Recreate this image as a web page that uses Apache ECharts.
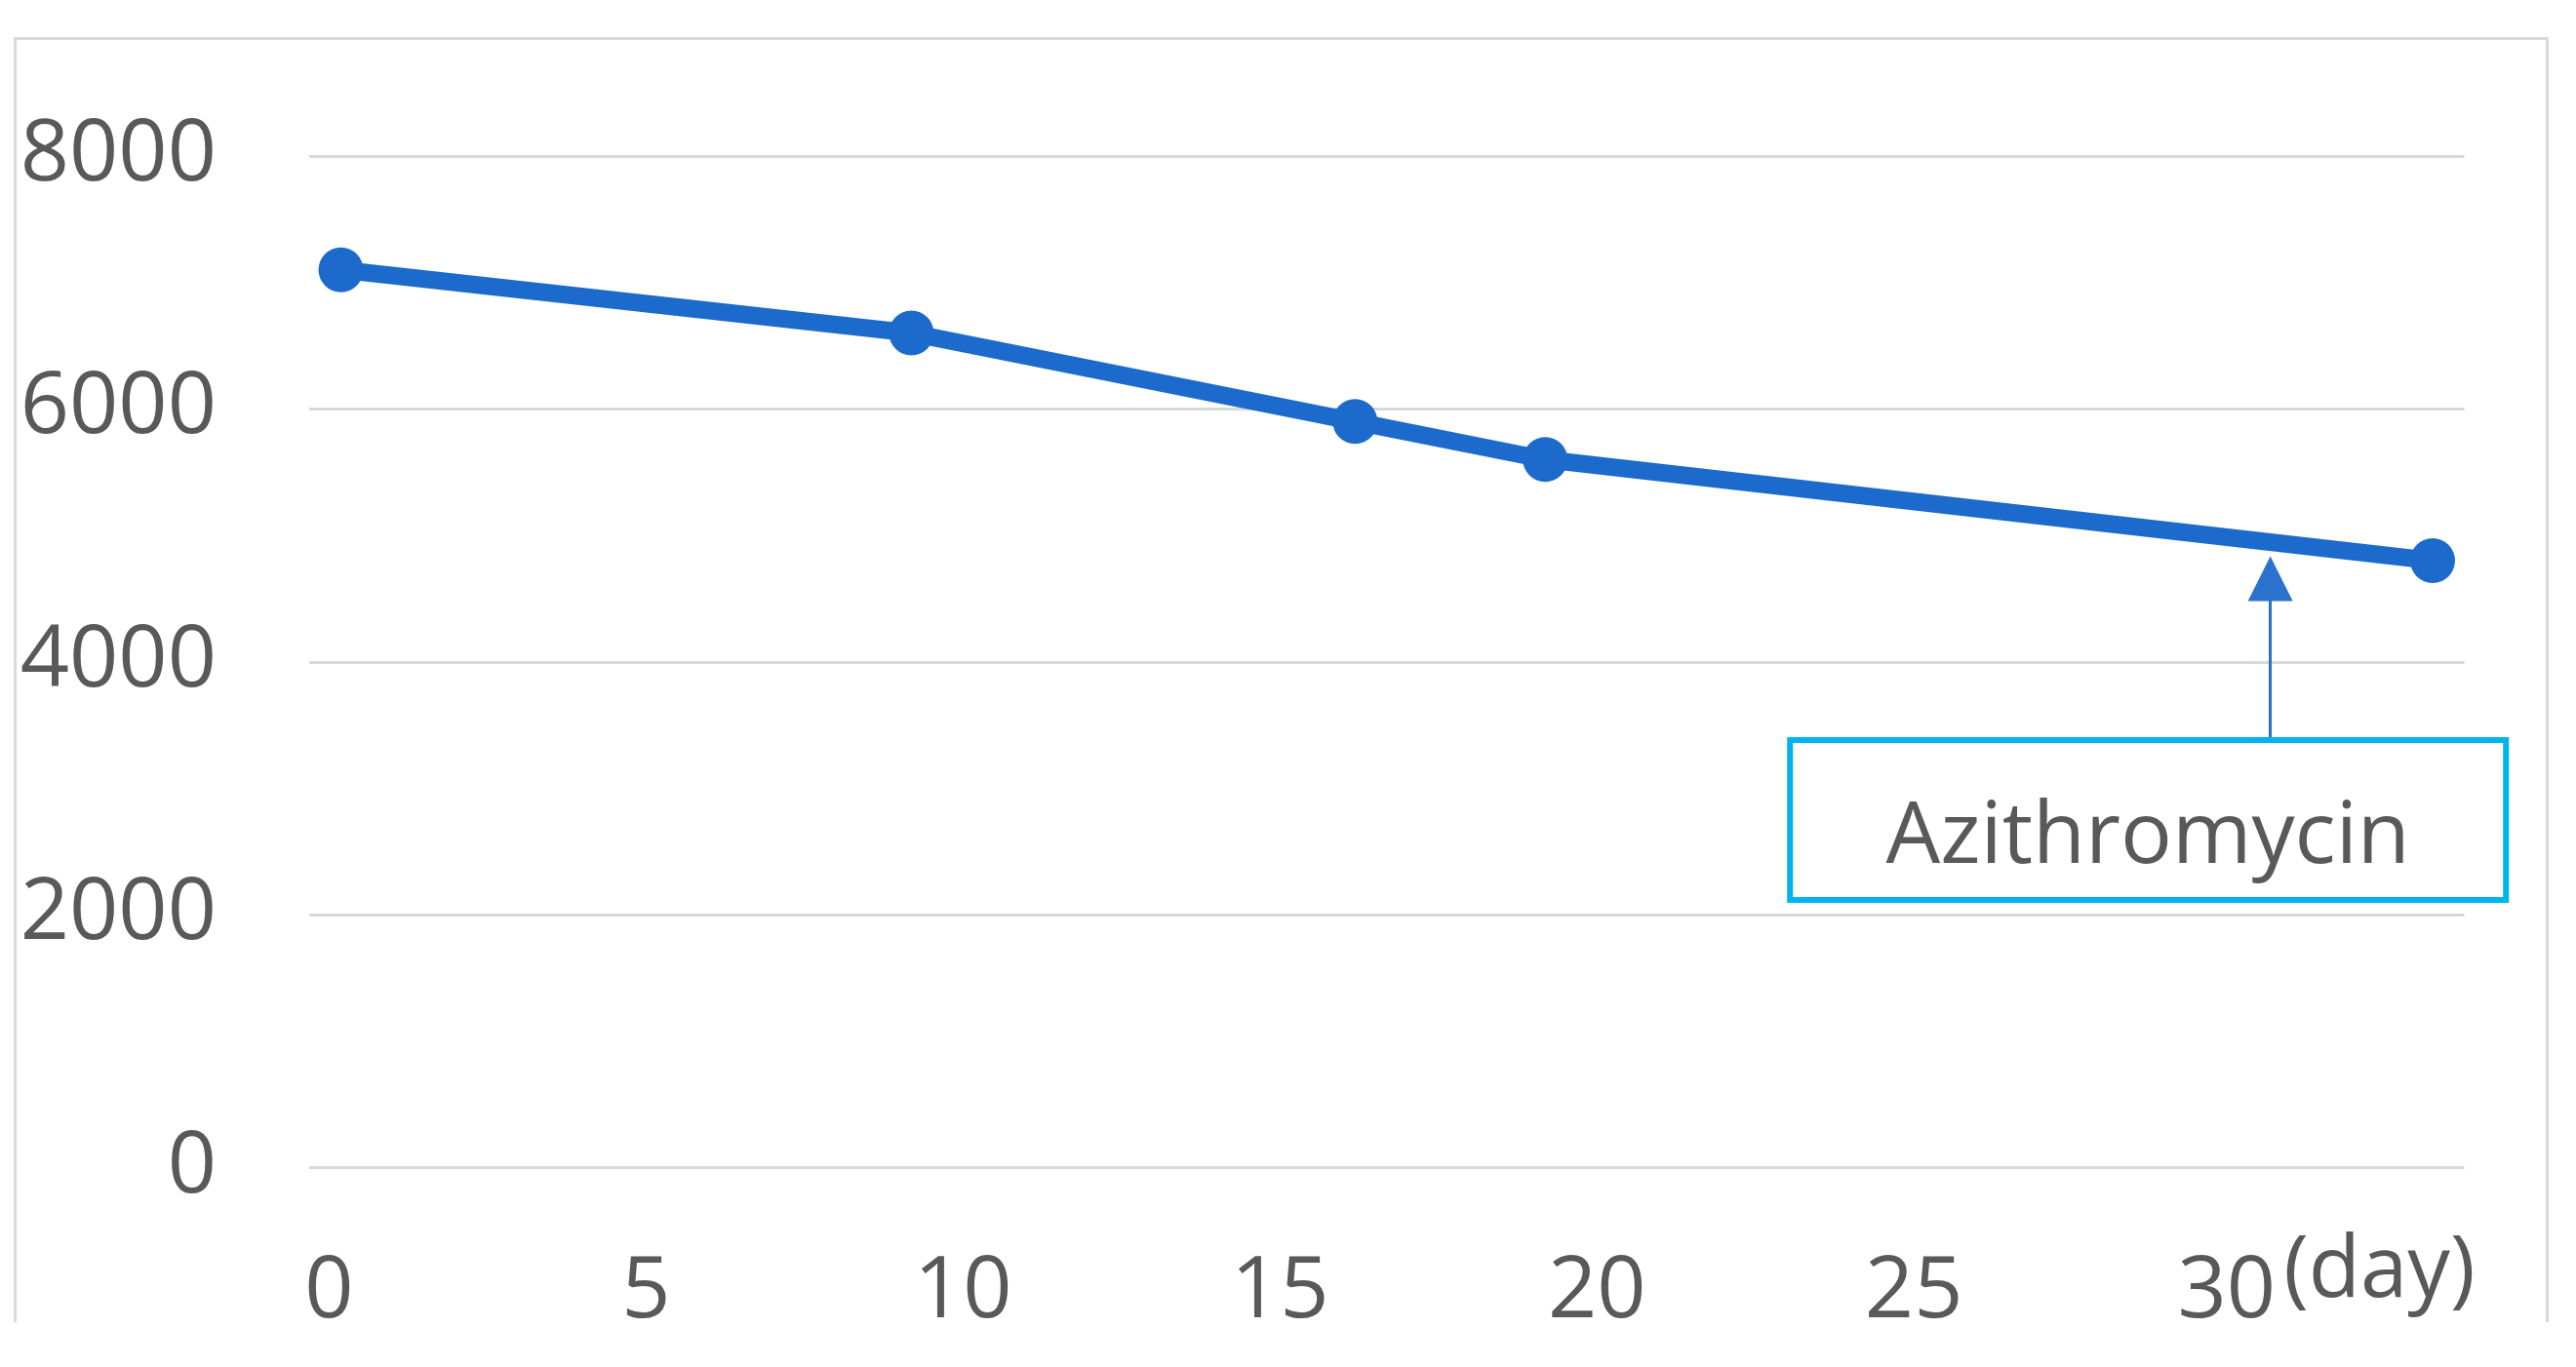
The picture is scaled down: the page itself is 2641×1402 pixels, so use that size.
<!DOCTYPE html>
<html>
<head>
<meta charset="utf-8">
<script src="https://cdn.jsdelivr.net/npm/echarts@6/dist/echarts.min.js"></script>
<style>
html,body{margin:0;padding:0;background:#fff;}
#chart{width:2641px;height:1402px;}
</style>
</head>
<body>
<div id="chart"></div>
<script>
// ---- data ----
const days = [0, 9, 16, 19, 33];
const values = [7100, 6600, 5900, 5600, 4800];
const xTickLabels = [0, 5, 10, 15, 20, 25, 30];
const xUnit = '(day)';
const yTicks = [0, 2000, 4000, 6000, 8000];
const annotationText = 'Azithromycin';
// annotation anchor (data space)
const arrowX = 30.44;
const arrowFrom = 3381;
const arrowTo = 4657;
const boxCenter = [28.51, 2749];
const textCenter = [28.51, 2600];

const FONT = 'Open Sans';
const TXT = '#595959';
const BLUE = '#1C6BCC';

const chart = echarts.init(document.getElementById('chart'), null, {renderer: 'canvas'});

const option = {
  backgroundColor: '#ffffff',
  animation: false,
  grid: { left: 317, right: 114.5, top: 160, bottom: 204.5, containLabel: false },
  xAxis: {
    type: 'value',
    min: -0.5,
    max: 33.5,
    axisLine: { show: false },
    axisTick: { show: false },
    splitLine: { show: false },
    axisLabel: {
      customValues: xTickLabels,
      margin: 64,
      padding: [0, 24, 0, 0],
      color: TXT,
      fontFamily: FONT,
      fontSize: 88,
      formatter: function (v) {
        if (v === xTickLabels[xTickLabels.length - 1]) {
          return '{p|}{n|' + v + '}{d|' + xUnit + '}';
        }
        return '{n|' + v + '}';
      },
      rich: {
        n: { color: TXT, fontFamily: FONT, fontSize: 88, lineHeight: 128 },
        p: { width: 196, lineHeight: 128 },
        d: { color: TXT, fontFamily: FONT, fontSize: 87, lineHeight: 88, padding: [0, 0, 40, 8] }
      }
    }
  },
  yAxis: {
    type: 'value',
    min: yTicks[0],
    max: yTicks[yTicks.length - 1],
    interval: yTicks[1] - yTicks[0],
    axisLine: { show: false },
    axisTick: { show: false },
    splitLine: { show: true, lineStyle: { color: '#d9d9d9', width: 3 } },
    axisLabel: {
      margin: 95, color: TXT, fontFamily: FONT, fontSize: 88,
      formatter: function (v) { return String(v); }
    }
  },
  graphic: [
    {
      type: 'rect',
      left: 13, top: 37,
      shape: { width: 2596, height: 1400 },
      style: { fill: 'none', stroke: '#d9d9d9', lineWidth: 3 },
      z: -1, silent: true
    },
    {
      type: 'rect',
      left: 0, top: 1356,
      shape: { width: 2641, height: 46 },
      style: { fill: '#ffffff' },
      z: 100, silent: true
    }
  ],
  series: [
    {
      type: 'line',
      data: days.map((d, i) => [d, values[i]]),
      clip: false,
      symbol: 'circle',
      symbolSize: 46,
      lineStyle: { color: BLUE, width: 18 },
      itemStyle: { color: BLUE },
      emphasis: { disabled: true },
      markLine: {
        silent: true,
        symbol: ['none', 'triangle'],
        symbolSize: [46, 46],
        label: { show: false },
        lineStyle: { color: '#2A72CC', width: 3, type: 'solid' },
        itemStyle: { color: '#2A72CC' },
        emphasis: { disabled: true },
        data: [[{ coord: [arrowX, arrowFrom] }, { coord: [arrowX, arrowTo] }]]
      },
      markPoint: {
        silent: true,
        symbol: 'circle',
        symbolSize: 0,
        itemStyle: { color: 'rgba(0,0,0,0)' },
        emphasis: { disabled: true },
        data: [
          {
            coord: boxCenter,
            label: {
              show: true,
              position: 'inside',
              formatter: ' ',
              align: 'center',
              verticalAlign: 'middle',
              width: 728,
              height: 158,
              padding: 0,
              backgroundColor: '#ffffff',
              borderColor: '#00B4EE',
              borderWidth: 6
            }
          },
          {
            coord: textCenter,
            label: {
              show: true,
              position: 'inside',
              formatter: annotationText,
              align: 'center',
              verticalAlign: 'middle',
              color: TXT,
              fontFamily: FONT,
              fontSize: 88
            }
          }
        ]
      }
    }
  ]
};

chart.setOption(option);
</script>
</body>
</html>
